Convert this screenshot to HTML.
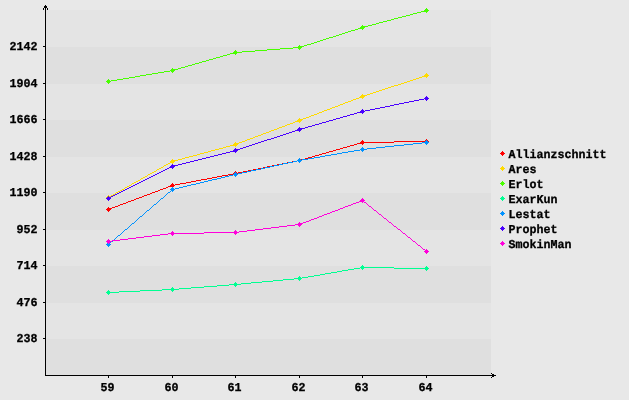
<!DOCTYPE html>
<html><head><meta charset="utf-8"><title>Chart</title>
<style>
html,body{margin:0;padding:0;background:#e8e8e8;}
body{width:629px;height:400px;overflow:hidden;position:relative;font-family:"Liberation Mono",monospace;}
svg{position:absolute;left:0;top:0;display:block;will-change:transform;}
svg text{font-family:"Liberation Mono",monospace;font-weight:bold;text-rendering:geometricPrecision;fill:#000;stroke:#000;stroke-width:0.3px;}
</style></head><body>
<svg width="629" height="400" viewBox="0 0 629 400">
<rect x="0" y="0" width="629" height="400" fill="#e8e8e8"/>
<g shape-rendering="crispEdges">
<rect x="46" y="10" width="445" height="37" fill="#e4e4e4"/>
<rect x="46" y="47" width="445" height="37" fill="#dfdfdf"/>
<rect x="46" y="84" width="445" height="36" fill="#e4e4e4"/>
<rect x="46" y="120" width="445" height="37" fill="#dfdfdf"/>
<rect x="46" y="157" width="445" height="36" fill="#e4e4e4"/>
<rect x="46" y="193" width="445" height="37" fill="#dfdfdf"/>
<rect x="46" y="230" width="445" height="36" fill="#e4e4e4"/>
<rect x="46" y="266" width="445" height="37" fill="#dfdfdf"/>
<rect x="46" y="303" width="445" height="36" fill="#e4e4e4"/>
<rect x="46" y="339" width="445" height="36" fill="#dfdfdf"/>
<rect x="45" y="5" width="1" height="371" fill="#000"/>
<rect x="45" y="375" width="451" height="1" fill="#000"/>
<path d="M44 6h3v2h-3z M43 8h1v2h-1z M47 8h1v2h-1z" fill="#000"/>
<path d="M492 374h2v3h-2z M491 373h1v1h-1z M491 377h1v1h-1z" fill="#000"/>
<rect x="43" y="46" width="2" height="1" fill="#000"/>
<rect x="43" y="83" width="2" height="1" fill="#000"/>
<rect x="43" y="119" width="2" height="1" fill="#000"/>
<rect x="43" y="156" width="2" height="1" fill="#000"/>
<rect x="43" y="192" width="2" height="1" fill="#000"/>
<rect x="43" y="229" width="2" height="1" fill="#000"/>
<rect x="43" y="265" width="2" height="1" fill="#000"/>
<rect x="43" y="302" width="2" height="1" fill="#000"/>
<rect x="43" y="338" width="2" height="1" fill="#000"/>
<rect x="108" y="376" width="1" height="2" fill="#000"/>
<rect x="172" y="376" width="1" height="2" fill="#000"/>
<rect x="235" y="376" width="1" height="2" fill="#000"/>
<rect x="299" y="376" width="1" height="2" fill="#000"/>
<rect x="362" y="376" width="1" height="2" fill="#000"/>
<rect x="426" y="376" width="1" height="2" fill="#000"/>
</g>
<g shape-rendering="crispEdges" stroke="none">
<path d="M106 209h5v1h-5zM107 208h5v1h-5zM107 210h3v1h-3zM108 207h1v1h-1zM108 211h1v1h-1zM112 207h3v1h-3zM115 206h3v1h-3zM118 205h2v1h-2zM120 204h3v1h-3zM123 203h3v1h-3zM126 202h2v1h-2zM128 201h3v1h-3zM131 200h3v1h-3zM134 199h2v1h-2zM136 198h3v1h-3zM139 197h3v1h-3zM142 196h2v1h-2zM144 195h3v1h-3zM147 194h3v1h-3zM150 193h2v1h-2zM152 192h3v1h-3zM155 191h3v1h-3zM158 190h2v1h-2zM160 189h3v1h-3zM163 188h3v1h-3zM166 187h2v1h-2zM168 186h6v1h-6zM170 185h5v1h-5zM171 184h3v1h-3zM172 183h1v1h-1zM172 187h1v1h-1zM175 184h5v1h-5zM180 183h6v1h-6zM186 182h5v1h-5zM191 181h5v1h-5zM196 180h5v1h-5zM201 179h6v1h-6zM207 178h5v1h-5zM212 177h5v1h-5zM217 176h5v1h-5zM222 175h6v1h-6zM228 174h5v1h-5zM233 173h5v1h-5zM234 172h3v1h-3zM234 174h3v1h-3zM235 171h1v1h-1zM235 175h1v1h-1zM238 172h5v1h-5zM243 171h5v1h-5zM248 170h5v1h-5zM253 169h5v1h-5zM258 168h5v1h-5zM263 167h4v1h-4zM267 166h5v1h-5zM272 165h5v1h-5zM277 164h5v1h-5zM282 163h5v1h-5zM287 162h5v1h-5zM292 161h5v1h-5zM297 160h5v1h-5zM298 159h7v1h-7zM298 161h3v1h-3zM299 158h1v1h-1zM299 162h1v1h-1zM305 158h3v1h-3zM308 157h4v1h-4zM312 156h3v1h-3zM315 155h4v1h-4zM319 154h3v1h-3zM322 153h4v1h-4zM326 152h3v1h-3zM329 151h4v1h-4zM333 150h3v1h-3zM336 149h4v1h-4zM340 148h3v1h-3zM343 147h4v1h-4zM347 146h3v1h-3zM350 145h4v1h-4zM354 144h3v1h-3zM357 143h7v1h-7zM360 142h34v1h-34zM361 141h3v1h-3zM362 140h1v1h-1zM362 144h1v1h-1zM394 141h35v1h-35zM425 140h3v1h-3zM425 142h3v1h-3zM426 139h1v1h-1zM426 143h1v1h-1z" fill="#ff0000"/>
<path d="M106 197h5v1h-5zM107 196h4v1h-4zM107 198h3v1h-3zM108 195h1v1h-1zM108 199h1v1h-1zM111 195h2v1h-2zM113 194h2v1h-2zM115 193h1v1h-1zM116 192h2v1h-2zM118 191h2v1h-2zM120 190h2v1h-2zM122 189h2v1h-2zM124 188h1v1h-1zM125 187h2v1h-2zM127 186h2v1h-2zM129 185h2v1h-2zM131 184h1v1h-1zM132 183h2v1h-2zM134 182h2v1h-2zM136 181h2v1h-2zM138 180h2v1h-2zM140 179h1v1h-1zM141 178h2v1h-2zM143 177h2v1h-2zM145 176h2v1h-2zM147 175h1v1h-1zM148 174h2v1h-2zM150 173h2v1h-2zM152 172h2v1h-2zM154 171h2v1h-2zM156 170h1v1h-1zM157 169h2v1h-2zM159 168h2v1h-2zM161 167h2v1h-2zM163 166h1v1h-1zM164 165h2v1h-2zM166 164h2v1h-2zM168 163h2v1h-2zM170 161h5v1h-5zM170 162h4v1h-4zM171 160h7v1h-7zM172 159h1v1h-1zM172 163h1v1h-1zM178 159h4v1h-4zM182 158h3v1h-3zM185 157h4v1h-4zM189 156h4v1h-4zM193 155h4v1h-4zM197 154h3v1h-3zM200 153h4v1h-4zM204 152h4v1h-4zM208 151h3v1h-3zM211 150h4v1h-4zM215 149h4v1h-4zM219 148h4v1h-4zM223 147h3v1h-3zM226 146h4v1h-4zM230 145h7v1h-7zM233 144h5v1h-5zM234 143h5v1h-5zM235 142h1v1h-1zM235 146h1v1h-1zM239 142h3v1h-3zM242 141h3v1h-3zM245 140h2v1h-2zM247 139h3v1h-3zM250 138h3v1h-3zM253 137h2v1h-2zM255 136h3v1h-3zM258 135h3v1h-3zM261 134h2v1h-2zM263 133h3v1h-3zM266 132h3v1h-3zM269 131h2v1h-2zM271 130h3v1h-3zM274 129h3v1h-3zM277 128h2v1h-2zM279 127h3v1h-3zM282 126h3v1h-3zM285 125h2v1h-2zM287 124h3v1h-3zM290 123h3v1h-3zM293 122h2v1h-2zM295 121h6v1h-6zM297 120h5v1h-5zM298 119h5v1h-5zM299 118h1v1h-1zM299 122h1v1h-1zM303 118h3v1h-3zM306 117h3v1h-3zM309 116h2v1h-2zM311 115h3v1h-3zM314 114h3v1h-3zM317 113h2v1h-2zM319 112h3v1h-3zM322 111h2v1h-2zM324 110h3v1h-3zM327 109h3v1h-3zM330 108h2v1h-2zM332 107h3v1h-3zM335 106h3v1h-3zM338 105h2v1h-2zM340 104h3v1h-3zM343 103h2v1h-2zM345 102h3v1h-3zM348 101h3v1h-3zM351 100h2v1h-2zM353 99h3v1h-3zM356 98h3v1h-3zM359 97h5v1h-5zM360 96h5v1h-5zM361 95h6v1h-6zM362 94h1v1h-1zM362 98h1v1h-1zM367 94h3v1h-3zM370 93h3v1h-3zM373 92h3v1h-3zM376 91h3v1h-3zM379 90h3v1h-3zM382 89h3v1h-3zM385 88h3v1h-3zM388 87h3v1h-3zM391 86h3v1h-3zM394 85h4v1h-4zM398 84h3v1h-3zM401 83h3v1h-3zM404 82h3v1h-3zM407 81h3v1h-3zM410 80h3v1h-3zM413 79h3v1h-3zM416 78h3v1h-3zM419 77h3v1h-3zM422 76h6v1h-6zM424 75h5v1h-5zM425 74h3v1h-3zM426 73h1v1h-1zM426 77h1v1h-1z" fill="#ffdb00"/>
<path d="M106 81h5v1h-5zM107 80h3v1h-3zM107 82h3v1h-3zM108 79h1v1h-1zM108 83h1v1h-1zM111 80h6v1h-6zM117 79h6v1h-6zM123 78h6v1h-6zM129 77h6v1h-6zM135 76h5v1h-5zM140 75h6v1h-6zM146 74h6v1h-6zM152 73h6v1h-6zM158 72h6v1h-6zM164 71h6v1h-6zM170 70h5v1h-5zM171 69h7v1h-7zM171 71h3v1h-3zM172 68h1v1h-1zM172 72h1v1h-1zM178 68h3v1h-3zM181 67h4v1h-4zM185 66h3v1h-3zM188 65h4v1h-4zM192 64h3v1h-3zM195 63h4v1h-4zM199 62h3v1h-3zM202 61h4v1h-4zM206 60h3v1h-3zM209 59h4v1h-4zM213 58h3v1h-3zM216 57h4v1h-4zM220 56h3v1h-3zM223 55h4v1h-4zM227 54h3v1h-3zM230 53h7v1h-7zM233 52h9v1h-9zM234 51h3v1h-3zM235 50h1v1h-1zM235 54h1v1h-1zM242 51h13v1h-13zM255 50h12v1h-12zM267 49h13v1h-13zM280 48h13v1h-13zM293 47h9v1h-9zM298 46h6v1h-6zM298 48h3v1h-3zM299 45h1v1h-1zM299 49h1v1h-1zM304 45h3v1h-3zM307 44h4v1h-4zM311 43h3v1h-3zM314 42h3v1h-3zM317 41h3v1h-3zM320 40h3v1h-3zM323 39h3v1h-3zM326 38h3v1h-3zM329 37h4v1h-4zM333 36h3v1h-3zM336 35h3v1h-3zM339 34h3v1h-3zM342 33h3v1h-3zM345 32h3v1h-3zM348 31h3v1h-3zM351 30h4v1h-4zM355 29h3v1h-3zM358 28h6v1h-6zM360 27h5v1h-5zM361 26h7v1h-7zM362 25h1v1h-1zM362 29h1v1h-1zM368 25h4v1h-4zM372 24h4v1h-4zM376 23h3v1h-3zM379 22h4v1h-4zM383 21h4v1h-4zM387 20h4v1h-4zM391 19h3v1h-3zM394 18h4v1h-4zM398 17h4v1h-4zM402 16h4v1h-4zM406 15h4v1h-4zM410 14h3v1h-3zM413 13h4v1h-4zM417 12h4v1h-4zM421 11h7v1h-7zM424 10h5v1h-5zM425 9h3v1h-3zM426 8h1v1h-1zM426 12h1v1h-1z" fill="#49ff00"/>
<path d="M106 292h13v1h-13zM107 291h3v1h-3zM107 293h3v1h-3zM108 290h1v1h-1zM108 294h1v1h-1zM119 291h21v1h-21zM140 290h22v1h-22zM162 289h17v1h-17zM171 288h3v1h-3zM171 290h3v1h-3zM172 287h1v1h-1zM172 291h1v1h-1zM179 288h12v1h-12zM191 287h13v1h-13zM204 286h13v1h-13zM217 285h12v1h-12zM229 284h12v1h-12zM234 283h3v1h-3zM234 285h3v1h-3zM235 282h1v1h-1zM235 286h1v1h-1zM241 283h10v1h-10zM251 282h11v1h-11zM262 281h11v1h-11zM273 280h10v1h-10zM283 279h11v1h-11zM294 278h8v1h-8zM298 277h3v1h-3zM298 279h3v1h-3zM299 276h1v1h-1zM299 280h1v1h-1zM302 277h6v1h-6zM308 276h6v1h-6zM314 275h6v1h-6zM320 274h5v1h-5zM325 273h6v1h-6zM331 272h6v1h-6zM337 271h5v1h-5zM342 270h6v1h-6zM348 269h6v1h-6zM354 268h6v1h-6zM360 267h34v1h-34zM361 266h3v1h-3zM361 268h3v1h-3zM362 265h1v1h-1zM362 269h1v1h-1zM394 268h35v1h-35zM425 267h3v1h-3zM425 269h3v1h-3zM426 266h1v1h-1zM426 270h1v1h-1z" fill="#00ff92"/>
<path d="M106 244h5v1h-5zM107 243h3v1h-3zM107 245h3v1h-3zM108 242h1v1h-1zM108 246h1v1h-1zM110 242h1v1h-1zM111 241h2v1h-2zM113 240h1v1h-1zM114 239h1v1h-1zM115 238h1v1h-1zM116 237h1v1h-1zM117 236h1v1h-1zM118 235h2v1h-2zM120 234h1v1h-1zM121 233h1v1h-1zM122 232h1v1h-1zM123 231h1v1h-1zM124 230h1v1h-1zM125 229h2v1h-2zM127 228h1v1h-1zM128 227h1v1h-1zM129 226h1v1h-1zM130 225h1v1h-1zM131 224h1v1h-1zM132 223h2v1h-2zM134 222h1v1h-1zM135 221h1v1h-1zM136 220h1v1h-1zM137 219h1v1h-1zM138 218h1v1h-1zM139 217h1v1h-1zM140 216h2v1h-2zM142 215h1v1h-1zM143 214h1v1h-1zM144 213h1v1h-1zM145 212h1v1h-1zM146 211h1v1h-1zM147 210h2v1h-2zM149 209h1v1h-1zM150 208h1v1h-1zM151 207h1v1h-1zM152 206h1v1h-1zM153 205h1v1h-1zM154 204h2v1h-2zM156 203h1v1h-1zM157 202h1v1h-1zM158 201h1v1h-1zM159 200h1v1h-1zM160 199h1v1h-1zM161 198h2v1h-2zM163 197h1v1h-1zM164 196h1v1h-1zM165 195h1v1h-1zM166 194h1v1h-1zM167 193h1v1h-1zM168 192h2v1h-2zM170 189h5v1h-5zM170 191h1v1h-1zM171 188h3v1h-3zM171 190h3v1h-3zM172 187h1v1h-1zM172 191h1v1h-1zM175 188h4v1h-4zM179 187h4v1h-4zM183 186h4v1h-4zM187 185h4v1h-4zM191 184h5v1h-5zM196 183h4v1h-4zM200 182h4v1h-4zM204 181h4v1h-4zM208 180h4v1h-4zM212 179h5v1h-5zM217 178h4v1h-4zM221 177h4v1h-4zM225 176h4v1h-4zM229 175h4v1h-4zM233 174h5v1h-5zM234 173h3v1h-3zM234 175h3v1h-3zM235 172h1v1h-1zM235 176h1v1h-1zM238 173h4v1h-4zM242 172h5v1h-5zM247 171h4v1h-4zM251 170h5v1h-5zM256 169h5v1h-5zM261 168h4v1h-4zM265 167h5v1h-5zM270 166h4v1h-4zM274 165h5v1h-5zM279 164h4v1h-4zM283 163h5v1h-5zM288 162h5v1h-5zM293 161h4v1h-4zM297 160h5v1h-5zM298 159h3v1h-3zM298 161h3v1h-3zM299 158h1v1h-1zM299 162h1v1h-1zM302 159h6v1h-6zM308 158h6v1h-6zM314 157h6v1h-6zM320 156h5v1h-5zM325 155h6v1h-6zM331 154h6v1h-6zM337 153h5v1h-5zM342 152h6v1h-6zM348 151h6v1h-6zM354 150h6v1h-6zM360 149h7v1h-7zM361 148h3v1h-3zM361 150h3v1h-3zM362 147h1v1h-1zM362 151h1v1h-1zM367 148h9v1h-9zM376 147h9v1h-9zM385 146h9v1h-9zM394 145h10v1h-10zM404 144h9v1h-9zM413 143h9v1h-9zM422 142h7v1h-7zM425 141h3v1h-3zM425 143h3v1h-3zM426 140h1v1h-1zM426 144h1v1h-1z" fill="#0092ff"/>
<path d="M106 198h5v1h-5zM107 197h4v1h-4zM107 199h3v1h-3zM108 196h1v1h-1zM108 200h1v1h-1zM111 196h2v1h-2zM113 195h2v1h-2zM115 194h2v1h-2zM117 193h2v1h-2zM119 192h2v1h-2zM121 191h2v1h-2zM123 190h2v1h-2zM125 189h2v1h-2zM127 188h2v1h-2zM129 187h2v1h-2zM131 186h2v1h-2zM133 185h2v1h-2zM135 184h2v1h-2zM137 183h2v1h-2zM139 182h2v1h-2zM141 181h2v1h-2zM143 180h2v1h-2zM145 179h2v1h-2zM147 178h2v1h-2zM149 177h2v1h-2zM151 176h2v1h-2zM153 175h2v1h-2zM155 174h2v1h-2zM157 173h2v1h-2zM159 172h2v1h-2zM161 171h2v1h-2zM163 170h2v1h-2zM165 169h2v1h-2zM167 168h2v1h-2zM169 167h5v1h-5zM170 166h5v1h-5zM171 165h7v1h-7zM172 164h1v1h-1zM172 168h1v1h-1zM178 164h4v1h-4zM182 163h4v1h-4zM186 162h4v1h-4zM190 161h4v1h-4zM194 160h4v1h-4zM198 159h4v1h-4zM202 158h4v1h-4zM206 157h4v1h-4zM210 156h4v1h-4zM214 155h4v1h-4zM218 154h4v1h-4zM222 153h4v1h-4zM226 152h4v1h-4zM230 151h7v1h-7zM233 150h5v1h-5zM234 149h6v1h-6zM235 148h1v1h-1zM235 152h1v1h-1zM240 148h3v1h-3zM243 147h3v1h-3zM246 146h3v1h-3zM249 145h3v1h-3zM252 144h3v1h-3zM255 143h3v1h-3zM258 142h3v1h-3zM261 141h3v1h-3zM264 140h3v1h-3zM267 139h4v1h-4zM271 138h3v1h-3zM274 137h3v1h-3zM277 136h3v1h-3zM280 135h3v1h-3zM283 134h3v1h-3zM286 133h3v1h-3zM289 132h3v1h-3zM292 131h3v1h-3zM295 130h6v1h-6zM297 129h5v1h-5zM298 128h7v1h-7zM299 127h1v1h-1zM299 131h1v1h-1zM305 127h3v1h-3zM308 126h4v1h-4zM312 125h3v1h-3zM315 124h4v1h-4zM319 123h3v1h-3zM322 122h4v1h-4zM326 121h3v1h-3zM329 120h4v1h-4zM333 119h3v1h-3zM336 118h4v1h-4zM340 117h3v1h-3zM343 116h4v1h-4zM347 115h3v1h-3zM350 114h4v1h-4zM354 113h3v1h-3zM357 112h7v1h-7zM360 111h5v1h-5zM361 110h3v1h-3zM362 109h1v1h-1zM362 113h1v1h-1zM365 110h5v1h-5zM370 109h5v1h-5zM375 108h5v1h-5zM380 107h5v1h-5zM385 106h5v1h-5zM390 105h4v1h-4zM394 104h5v1h-5zM399 103h5v1h-5zM404 102h5v1h-5zM409 101h5v1h-5zM414 100h5v1h-5zM419 99h5v1h-5zM424 98h5v1h-5zM425 97h3v1h-3zM425 99h3v1h-3zM426 96h1v1h-1zM426 100h1v1h-1z" fill="#4900ff"/>
<path d="M106 241h6v1h-6zM107 240h3v1h-3zM107 242h3v1h-3zM108 239h1v1h-1zM108 243h1v1h-1zM112 240h8v1h-8zM120 239h8v1h-8zM128 238h8v1h-8zM136 237h8v1h-8zM144 236h8v1h-8zM152 235h8v1h-8zM160 234h8v1h-8zM168 233h36v1h-36zM171 232h3v1h-3zM171 234h3v1h-3zM172 231h1v1h-1zM172 235h1v1h-1zM204 232h35v1h-35zM234 231h3v1h-3zM234 233h3v1h-3zM235 230h1v1h-1zM235 234h1v1h-1zM239 231h8v1h-8zM247 230h8v1h-8zM255 229h8v1h-8zM263 228h8v1h-8zM271 227h8v1h-8zM279 226h8v1h-8zM287 225h8v1h-8zM295 224h7v1h-7zM298 223h5v1h-5zM298 225h3v1h-3zM299 222h1v1h-1zM299 226h1v1h-1zM303 222h3v1h-3zM306 221h3v1h-3zM309 220h2v1h-2zM311 219h3v1h-3zM314 218h3v1h-3zM317 217h2v1h-2zM319 216h3v1h-3zM322 215h2v1h-2zM324 214h3v1h-3zM327 213h3v1h-3zM330 212h2v1h-2zM332 211h3v1h-3zM335 210h3v1h-3zM338 209h2v1h-2zM340 208h3v1h-3zM343 207h2v1h-2zM345 206h3v1h-3zM348 205h3v1h-3zM351 204h2v1h-2zM353 203h3v1h-3zM356 202h3v1h-3zM359 201h5v1h-5zM360 200h5v1h-5zM361 199h3v1h-3zM362 198h1v1h-1zM362 202h1v1h-1zM364 202h2v1h-2zM366 203h1v1h-1zM367 204h1v1h-1zM368 205h1v1h-1zM369 206h2v1h-2zM371 207h1v1h-1zM372 208h1v1h-1zM373 209h1v1h-1zM374 210h2v1h-2zM376 211h1v1h-1zM377 212h1v1h-1zM378 213h1v1h-1zM379 214h2v1h-2zM381 215h1v1h-1zM382 216h1v1h-1zM383 217h1v1h-1zM384 218h2v1h-2zM386 219h1v1h-1zM387 220h1v1h-1zM388 221h1v1h-1zM389 222h2v1h-2zM391 223h1v1h-1zM392 224h1v1h-1zM393 225h1v1h-1zM394 226h2v1h-2zM396 227h1v1h-1zM397 228h1v1h-1zM398 229h2v1h-2zM400 230h1v1h-1zM401 231h1v1h-1zM402 232h1v1h-1zM403 233h2v1h-2zM405 234h1v1h-1zM406 235h1v1h-1zM407 236h1v1h-1zM408 237h2v1h-2zM410 238h1v1h-1zM411 239h1v1h-1zM412 240h1v1h-1zM413 241h2v1h-2zM415 242h1v1h-1zM416 243h1v1h-1zM417 244h1v1h-1zM418 245h2v1h-2zM420 246h1v1h-1zM421 247h1v1h-1zM422 248h1v1h-1zM423 249h2v1h-2zM424 251h5v1h-5zM425 250h3v1h-3zM425 252h3v1h-3zM426 249h1v1h-1zM426 253h1v1h-1z" fill="#ff00db"/>
</g>
<g shape-rendering="crispEdges">
<path d="M502 151h1v1h-1z M501 152h3v1h-3z M500 153h5v1h-5z M501 154h3v1h-3z M502 155h1v1h-1z" fill="#ff0000"/>
<path d="M502 166h1v1h-1z M501 167h3v1h-3z M500 168h5v1h-5z M501 169h3v1h-3z M502 170h1v1h-1z" fill="#ffdb00"/>
<path d="M502 181h1v1h-1z M501 182h3v1h-3z M500 183h5v1h-5z M501 184h3v1h-3z M502 185h1v1h-1z" fill="#49ff00"/>
<path d="M502 196h1v1h-1z M501 197h3v1h-3z M500 198h5v1h-5z M501 199h3v1h-3z M502 200h1v1h-1z" fill="#00ff92"/>
<path d="M502 211h1v1h-1z M501 212h3v1h-3z M500 213h5v1h-5z M501 214h3v1h-3z M502 215h1v1h-1z" fill="#0092ff"/>
<path d="M502 226h1v1h-1z M501 227h3v1h-3z M500 228h5v1h-5z M501 229h3v1h-3z M502 230h1v1h-1z" fill="#4900ff"/>
<path d="M502 241h1v1h-1z M501 242h3v1h-3z M500 243h5v1h-5z M501 244h3v1h-3z M502 245h1v1h-1z" fill="#ff00db"/>
</g>
<text x="508.5" y="158" font-size="12" textLength="98" lengthAdjust="spacingAndGlyphs">Allianzschnitt</text>
<text x="508.5" y="173" font-size="12" textLength="28" lengthAdjust="spacingAndGlyphs">Ares</text>
<text x="508.5" y="188" font-size="12" textLength="35" lengthAdjust="spacingAndGlyphs">Erlot</text>
<text x="508.5" y="203" font-size="12" textLength="49" lengthAdjust="spacingAndGlyphs">ExarKun</text>
<text x="508.5" y="218" font-size="12" textLength="42" lengthAdjust="spacingAndGlyphs">Lestat</text>
<text x="508.5" y="233" font-size="12" textLength="49" lengthAdjust="spacingAndGlyphs">Prophet</text>
<text x="508.5" y="248" font-size="12" textLength="63" lengthAdjust="spacingAndGlyphs">SmokinMan</text>
<text x="9.5" y="50" font-size="12" textLength="28" lengthAdjust="spacingAndGlyphs">2142</text>
<text x="9.5" y="87" font-size="12" textLength="28" lengthAdjust="spacingAndGlyphs">1904</text>
<text x="9.5" y="123" font-size="12" textLength="28" lengthAdjust="spacingAndGlyphs">1666</text>
<text x="9.5" y="160" font-size="12" textLength="28" lengthAdjust="spacingAndGlyphs">1428</text>
<text x="9.5" y="196" font-size="12" textLength="28" lengthAdjust="spacingAndGlyphs">1190</text>
<text x="16.5" y="233" font-size="12" textLength="21" lengthAdjust="spacingAndGlyphs">952</text>
<text x="16.5" y="269" font-size="12" textLength="21" lengthAdjust="spacingAndGlyphs">714</text>
<text x="16.5" y="306" font-size="12" textLength="21" lengthAdjust="spacingAndGlyphs">476</text>
<text x="16.5" y="342" font-size="12" textLength="21" lengthAdjust="spacingAndGlyphs">238</text>
<text x="100.5" y="391" font-size="12" textLength="14" lengthAdjust="spacingAndGlyphs">59</text>
<text x="164.5" y="391" font-size="12" textLength="14" lengthAdjust="spacingAndGlyphs">60</text>
<text x="227.5" y="391" font-size="12" textLength="14" lengthAdjust="spacingAndGlyphs">61</text>
<text x="291.5" y="391" font-size="12" textLength="14" lengthAdjust="spacingAndGlyphs">62</text>
<text x="354.5" y="391" font-size="12" textLength="14" lengthAdjust="spacingAndGlyphs">63</text>
<text x="418.5" y="391" font-size="12" textLength="14" lengthAdjust="spacingAndGlyphs">64</text>
</svg>
</body></html>
